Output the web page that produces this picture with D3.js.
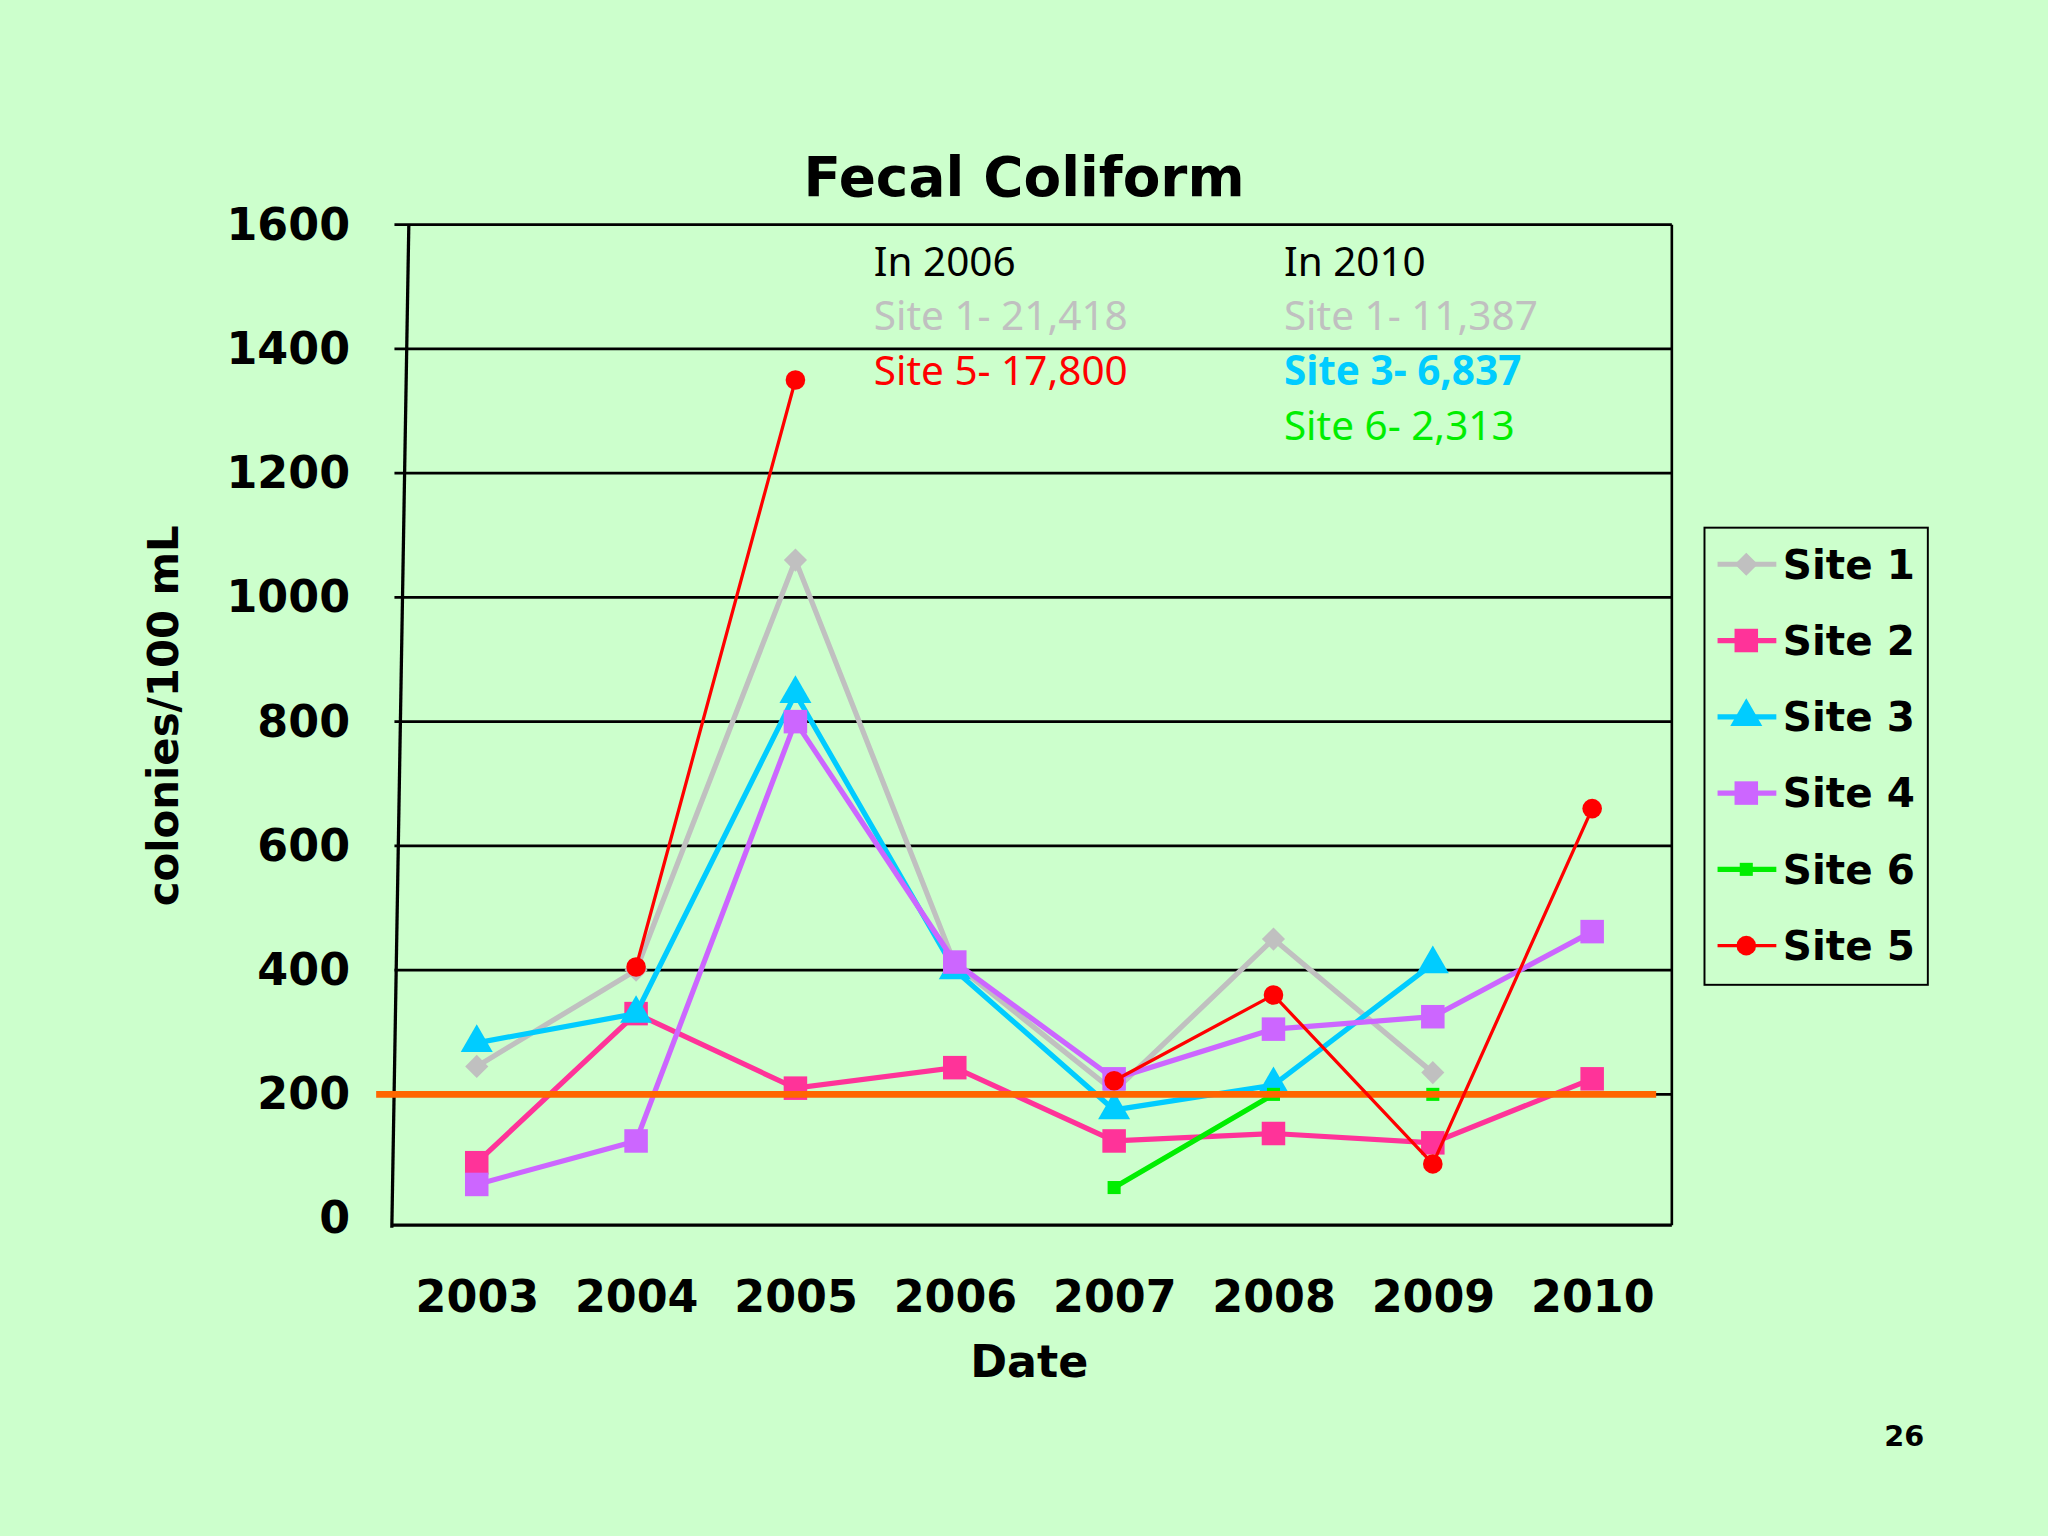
<!DOCTYPE html>
<html><head><meta charset="utf-8">
<script src="https://cdn.jsdelivr.net/npm/d3@7"></script>
<style>body{margin:0;background:#ccffcc}</style>
</head><body>
<div id="chart"></div>
<script>
var years = ["2003","2004","2005","2006","2007","2008","2009","2010"];
var site1 = [245, 400, 1060, 410, 205, 450, 235, null];
var site2 = [90, 330, 210, 243, 125, 137, 122, 225];
var site3 = [283, 330, 845, 400, 175, 215, 410, null];
var site4 = [55, 125, 800, 413, 225, 305, 325, 462];
var site6 = [null, null, null, null, 50, 200, 200, null];
var site5 = [null, 405, 1350, null, 222, 360, 88, 660];
var yTicks = [0, 200, 400, 600, 800, 1000, 1200, 1400, 1600];
var standard = 200;

var series = [
  {name: "Site 1", values: site1, color: "#c0c0c0", shape: "diamond", w: 4},
  {name: "Site 2", values: site2, color: "#ff3399", shape: "square", w: 4},
  {name: "Site 3", values: site3, color: "#00ccff", shape: "triangle", w: 4},
  {name: "Site 4", values: site4, color: "#cc66ff", shape: "square", w: 4},
  {name: "Site 6", values: site6, color: "#00ee00", shape: "smallsq", w: 4},
  {name: "Site 5", values: site5, color: "#ff0000", shape: "circle", w: 2.5}
];

var svg = d3.select("#chart").append("svg")
  .attr("width", 2048).attr("height", 1536)
  .attr("viewBox", "0 0 1568 1176");
svg.append("rect").attr("width", 1568).attr("height", 1176).attr("fill", "#ccffcc");

var plotLeft = 302, plotRight = 1280, plotTop = 172, plotBottom = 933;
var x = d3.scalePoint().domain(years).range([365, 1219]);
var y = d3.scaleLinear().domain([0, 1600]).range([plotBottom, plotTop]);
var font = "'DejaVu Sans', sans-serif";

// gridlines
svg.append("g").selectAll("line").data(yTicks.slice(1)).enter().append("line")
  .attr("x1", plotLeft).attr("x2", plotRight)
  .attr("y1", d => y(d)).attr("y2", d => y(d))
  .attr("stroke", "#000").attr("stroke-width", 2);
svg.append("line").attr("x1", plotRight).attr("x2", plotRight).attr("y1", plotTop).attr("y2", plotBottom + 5)
  .attr("stroke", "#000").attr("stroke-width", 2);
svg.append("line").attr("x1", 313).attr("x2", 300).attr("y1", plotTop).attr("y2", 940)
  .attr("stroke", "#000").attr("stroke-width", 2.5);
svg.append("line").attr("x1", 300).attr("x2", plotRight).attr("y1", 938).attr("y2", 938)
  .attr("stroke", "#000").attr("stroke-width", 2.5);

// y axis labels
var yAxis = d3.axisLeft(y).tickValues(yTicks).tickSize(0).tickPadding(0).tickFormat(d3.format("d"));
svg.append("g").attr("transform", "translate(268,0)").call(yAxis)
  .call(g => g.select(".domain").remove())
  .selectAll("text").attr("font-family", font).attr("font-weight", "bold")
  .attr("font-size", 34).attr("fill", "#000");

// x axis labels
var xAxis = d3.axisBottom(x).tickSize(0).tickPadding(0);
svg.append("g").attr("transform", "translate(0,980)").call(xAxis)
  .call(g => g.select(".domain").remove())
  .selectAll("text").attr("font-family", font).attr("font-weight", "bold")
  .attr("font-size", 34).attr("fill", "#000");

svg.append("text").attr("x", 788).attr("y", 1054).attr("text-anchor", "middle")
  .attr("font-family", font).attr("font-weight", "bold").attr("font-size", 34).text("Date");
svg.append("text").attr("transform", "translate(136,548) rotate(-90)").attr("text-anchor", "middle")
  .attr("font-family", font).attr("font-weight", "bold").attr("font-size", 32).text("colonies/100 mL");
svg.append("text").attr("x", 784).attr("y", 150).attr("text-anchor", "middle")
  .attr("font-family", font).attr("font-weight", "bold").attr("font-size", 42).text("Fecal Coliform");
svg.append("text").attr("x", 1458).attr("y", 1107).attr("text-anchor", "middle")
  .attr("font-family", font).attr("font-weight", "bold").attr("font-size", 22).text("26");

// annotations
var notes = [
  {x: 669, y: 211, t: "In 2006", c: "#000", b: false},
  {x: 669, y: 253, t: "Site 1- 21,418", c: "#c0c0c0", b: false},
  {x: 669, y: 295, t: "Site 5- 17,800", c: "#ff0000", b: false},
  {x: 983, y: 211, t: "In 2010", c: "#000", b: false},
  {x: 983, y: 253, t: "Site 1- 11,387", c: "#c0c0c0", b: false},
  {x: 983, y: 295, t: "Site 3- 6,837", c: "#00ccff", b: true},
  {x: 983, y: 337, t: "Site 6- 2,313", c: "#00ee00", b: false}
];
svg.append("g").selectAll("text").data(notes).enter().append("text")
  .attr("x", d => d.x).attr("y", d => d.y).attr("fill", d => d.c)
  .attr("font-weight", d => d.b ? "bold" : "normal")
  .attr("font-family", "'Noto Sans', sans-serif").attr("font-size", 31).text(d => d.t);

function marker(g, shape, color, cx, cy) {
  if (shape === "diamond") g.append("path").attr("d", d3.symbol(d3.symbolDiamond2, 200)()).attr("transform", `translate(${cx},${cy})`).attr("fill", color);
  else if (shape === "square") g.append("rect").attr("x", cx - 9).attr("y", cy - 9).attr("width", 18).attr("height", 18).attr("fill", color);
  else if (shape === "smallsq") g.append("rect").attr("x", cx - 5).attr("y", cy - 5).attr("width", 10).attr("height", 10).attr("fill", color);
  else if (shape === "triangle") g.append("path").attr("d", d3.symbol(d3.symbolTriangle, 260)()).attr("transform", `translate(${cx},${cy})`).attr("fill", color);
  else g.append("circle").attr("cx", cx).attr("cy", cy).attr("r", 7.5).attr("fill", color);
}

var line = d3.line().defined(d => d.v != null).x(d => x(d.year)).y(d => y(d.v));
series.forEach(function (s) {
  var pts = years.map((yr, i) => ({year: yr, v: s.values[i]}));
  var g = svg.append("g");
  g.append("path").datum(pts).attr("d", line).attr("fill", "none")
    .attr("stroke", s.color).attr("stroke-width", s.w);
  pts.filter(d => d.v != null).forEach(d => marker(g, s.shape, s.color, x(d.year), y(d.v)));
  if (s.name === "Site 6") {
    // orange standard line drawn over site 6, under site 5
    svg.append("line").attr("x1", 288).attr("x2", 1268)
      .attr("y1", y(standard)).attr("y2", y(standard))
      .attr("stroke", "#ff6600").attr("stroke-width", 5);
  }
});

// legend
var lg = svg.append("g");
lg.append("rect").attr("x", 1305).attr("y", 404).attr("width", 171).attr("height", 350)
  .attr("fill", "#ccffcc").attr("stroke", "#000").attr("stroke-width", 1.5);
series.forEach(function (s, i) {
  var ly = 432 + i * 58.4;
  lg.append("line").attr("x1", 1315).attr("x2", 1360).attr("y1", ly).attr("y2", ly)
    .attr("stroke", s.color).attr("stroke-width", s.w);
  marker(lg, s.shape, s.color, 1337, ly);
  lg.append("text").attr("x", 1365).attr("y", ly + 11).attr("font-family", font)
    .attr("font-weight", "bold").attr("font-size", 31).text(s.name);
});
</script>
</body></html>
